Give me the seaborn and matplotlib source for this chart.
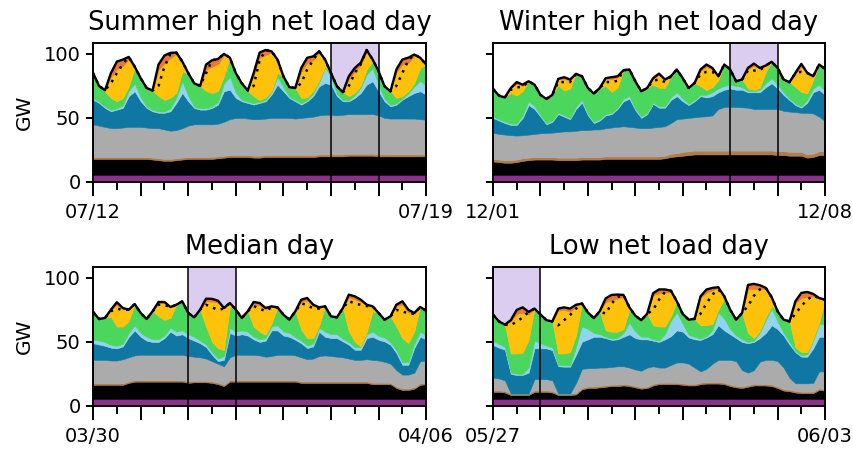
import numpy as np
import matplotlib
matplotlib.use("Agg")
import matplotlib.pyplot as plt
import seaborn as sns

# ---------------- data (GW, 3-hourly over one week) ----------------
HOURS = list(range(0, 169, 3))
TITLES = ["Summer high net load day", "Winter high net load day", "Median day", "Low net load day"]
START_LABELS = ["07/12", "12/01", "03/30", "05/27"]
END_LABELS = ["07/19", "12/08", "04/06", "06/03"]
HIGHLIGHT_DAY = [5, 5, 2, 0]
NUCLEAR_GW = 5.5

# ---- Summer high net load week ----
SUM_TOTAL = [85, 75, 71.6, 85, 94, 95.5, 97.6, 90,
             81, 73.4, 71.4, 91.7, 98.7, 100.8, 101, 94,
             85, 77, 75, 91.7, 95, 96, 100, 97,
             85, 77, 71.4, 85, 101, 103, 102, 95.6,
             82.5, 74, 73.4, 89, 97, 98, 102, 95.6,
             85, 74.7, 70, 82.5, 89, 93, 103, 95.6,
             86.5, 74.7, 70.8, 87.8, 95.6, 97, 99.5, 97,
             91.7]
SUM_DEMAND = [85, 75, 71.6, 77, 85, 92, 97.6, 90,
              81, 73.4, 71.4, 75, 90, 100, 101, 94,
              85, 77, 75, 85, 95, 96, 100, 97,
              85, 77, 71.4, 75, 95, 103, 102, 95.6,
              82.5, 74, 73.4, 77, 88, 95, 102, 95.6,
              85, 74.7, 70, 75, 85, 92, 103, 95.6,
              86.5, 74.7, 70.8, 75, 85, 95, 99.5, 97,
              91.7]
SUM_COAL_TOP = [18, 18, 18, 18, 18, 18, 18, 18,
                18, 18, 17.5, 17, 16.5, 16.5, 17, 17.5,
                18, 18, 18, 18, 18, 18.5, 19, 19.5,
                19.5, 19.5, 19.5, 19, 19, 19.5, 19.5, 19.5,
                19.5, 19.5, 19.5, 19.5, 19.5, 19.5, 20, 20,
                20, 20, 20, 20.5, 20.5, 20.5, 20.5, 20.5,
                20, 20, 20, 20, 20, 20, 20, 20,
                20]
SUM_OTHER = [1.5, 1.5, 1.5, 1.5, 1.5, 1.5, 1.5, 1.5,
             1.5, 1.5, 1.5, 1.5, 1.5, 1.5, 1.5, 1.5,
             1.5, 1.5, 1.5, 1.5, 1.5, 1.5, 1.5, 1.5,
             1.5, 1.5, 1.5, 1.5, 1.5, 1.5, 1.5, 1.5,
             1.5, 1.5, 1.5, 1.5, 1.5, 1.5, 1.5, 1.5,
             1.5, 1.5, 1.5, 1.5, 1.5, 1.5, 1.5, 1.5,
             1.5, 1.5, 1.5, 1.5, 1.5, 1.5, 1.5, 1.5,
             1.5]
SUM_GAS_TOP = [45, 44, 43, 42, 42, 42.5, 43, 43,
               43, 42.5, 42, 42, 41, 40, 40.5, 42,
               44, 45, 45, 45, 45, 45.5, 47, 49,
               50, 50, 49.5, 49, 49, 49.5, 50, 50,
               50, 50, 49.5, 50, 50.5, 51, 52, 52.5,
               52.5, 52, 52.5, 53, 53, 53, 53, 53,
               52, 50, 49.5, 49.5, 49.5, 49.5, 49.5, 49,
               48.5]
SUM_HYDRO_TOP = [64.3, 61.7, 57.8, 55.2, 56.5, 57.8, 67, 70.8,
                 63, 57.8, 55.2, 54, 54, 55.2, 61.7, 69.5,
                 63, 57.8, 56.5, 56.5, 57.8, 60.4, 70.8, 72,
                 65.6, 63, 61.7, 60.4, 61.7, 63, 68.2, 76,
                 70.8, 65.6, 63, 60.4, 63, 67, 74.7, 77.3,
                 76, 67, 63, 63, 65.6, 69.5, 76, 78.6,
                 70.8, 63, 59, 60.4, 64.3, 67, 69.5, 70.8,
                 68.2]
SUM_IMPORTS = [1, 1, 1, 1, 1, 2, 4, 6,
               3, 1, 1, 1, 1, 2, 4, 9,
               4, 1, 1, 1, 1, 2, 6, 10,
               4, 1, 1, 1, 1, 1, 2, 6,
               3, 1, 1, 1, 1, 2, 3, 12,
               6, 2, 1, 1, 2, 4, 8, 10,
               5, 2, 1, 1, 1, 2, 5, 8,
               7]
SUM_SOLAR = [0, 0, 1, 16.4, 25, 25, 21, 1,
             0, 0, 0, 20.7, 28.7, 31, 30.5, 8,
             0, 0, 0, 16.7, 20.5, 21, 16.5, 0,
             0, 0, 0, 16, 33, 33, 30, 10.6,
             0, 0, 0, 20.4, 27, 24, 22, 5.6,
             0, 0, 0, 13.5, 16.5, 16, 14.2, 1.6,
             0, 0, 0, 20.2, 24.6, 22.2, 21.5, 8,
             0]
SUM_CURTAIL = [0, 0, 0, 3, 6, 5, 2, 0,
               0, 0, 0, 4, 6, 4, 1, 0,
               0, 0, 0, 4, 5, 4, 1, 0,
               0, 0, 0, 2, 4, 4, 1, 0,
               0, 0, 0, 3, 4, 3, 1, 0,
               0, 0, 0, 2, 3, 2, 1, 0,
               0, 0, 0, 2, 4, 4, 1, 0,
               0]

# ---- Winter high net load week ----
WIN_TOTAL = [72.7, 67.4, 66, 73.4, 78, 76, 78.6, 76,
             68, 64.8, 68, 80.5, 81.8, 80, 84.4, 82.5,
             73.4, 69, 73.4, 81, 81.8, 82.5, 87.2, 87.8,
             78.6, 70.8, 73.4, 81, 84.6, 80, 82.5, 87.8,
             81, 73.4, 77.3, 87.8, 91.7, 89, 82.5, 91.7,
             87.8, 78.6, 80, 89, 92.4, 89, 90.9, 93.8,
             89, 80, 77.9, 85.2, 92.2, 85.2, 82.5, 91.7,
             88.3]
WIN_DEMAND = [72.7, 67.4, 66, 72, 74, 74, 78.6, 76,
              68, 64.8, 68, 78, 78, 78, 84.4, 82.5,
              73.4, 69, 73.4, 78, 78, 79, 87.2, 87.8,
              78.6, 70.8, 73.4, 79, 80, 78, 82.5, 87.8,
              81, 73.4, 77.3, 84, 86, 86, 82.5, 91.7,
              87.8, 78.6, 80, 87, 87, 87, 90.9, 93.8,
              89, 80, 77.9, 85, 86, 85, 82.5, 91.7,
              88.3]
WIN_COAL_TOP = [16, 15.5, 15, 15, 15.5, 16.5, 17, 17.5,
                17.5, 17.5, 17.5, 17, 17, 17, 17, 17.5,
                17.5, 17.5, 17.5, 18, 18, 18, 18, 18,
                18, 18, 18, 18, 18, 18.5, 19.5, 20,
                20.5, 21, 21.5, 21.5, 21.5, 21.5, 21.5, 21.5,
                21.5, 21.5, 21.5, 21.5, 21.5, 21.5, 21.5, 21.5,
                21, 21, 20.5, 20.5, 20.5, 19, 19.5, 21,
                21]
WIN_OTHER = [2, 2, 2, 2, 2, 2, 2, 2,
             2, 2, 2, 2, 2, 2, 2, 2,
             2, 2, 2, 2, 2, 2, 2, 2,
             2, 2, 2, 2, 2, 2, 2.5, 2.5,
             3, 3, 3, 3, 3, 3, 3, 3,
             3, 3, 3, 3, 3, 3, 3, 3,
             3, 3, 3, 3, 3, 2.5, 2.5, 3,
             3]
WIN_GAS_TOP = [38.3, 37.5, 37, 36.5, 36.2, 36.5, 37, 37.5,
               38, 38.3, 38.5, 39, 39.5, 39.5, 40, 40.5,
               40.5, 41, 41, 42, 42.5, 43, 43.5, 43,
               42.5, 42, 42, 42.5, 43, 43.5, 46, 49,
               49.5, 50, 50.5, 51, 51.3, 52, 57, 58.6,
               58.6, 58.6, 58.3, 58, 57, 57, 57, 57,
               57, 55.5, 55, 54.5, 54, 54, 53.5, 51,
               47.4]
WIN_HYDRO_TOP = [50, 48, 46, 44.5, 44.5, 50, 60, 57,
                 51, 45, 47, 53, 51, 49, 57, 62,
                 52, 46, 48, 52, 53, 57, 63, 65,
                 56, 50, 53, 61, 58, 58, 64, 67,
                 63, 60, 63, 67, 66, 67, 70, 72,
                 73, 72, 72, 70, 70, 70, 74, 77,
                 73, 68, 64, 60, 58, 62, 70, 72,
                 68]
WIN_IMPORTS = [1, 1, 1, 1, 1, 2, 3, 2,
               1, 1, 1, 1, 1, 1, 2, 2,
               1, 1, 1, 1, 1, 1, 2, 2,
               1, 1, 1, 1, 1, 1, 2, 3,
               2, 1, 1, 1, 2, 3, 3, 3,
               3, 3, 2, 1, 1, 2, 3, 4,
               3, 2, 1, 1, 1, 2, 3, 4,
               3]
WIN_SOLAR = [0, 0, 0, 4, 9, 4, 0, 0,
             0, 0, 0, 5, 9, 6, 0, 0,
             0, 0, 0, 6, 10, 8, 0, 0,
             0, 0, 0, 5, 10, 6, 0, 0,
             0, 0, 0, 12, 18, 14, 3, 0,
             0, 0, 0, 15, 19, 15, 5, 0,
             0, 0, 0, 10, 20, 15, 3, 0,
             0]
WIN_CURTAIL = [0, 0, 0, 0, 1.5, 1, 0, 0,
               0, 0, 0, 0, 1.5, 1, 0, 0,
               0, 0, 0, 0, 1.5, 1, 0, 0,
               0, 0, 0, 0, 1, 0.5, 0, 0,
               0, 0, 0, 1, 2, 1, 0, 0,
               0, 0, 0, 1, 1.5, 0.5, 0, 0,
               0, 0, 0, 1, 2, 1, 0, 0,
               0]

# ---- Median week ----
MED_TOTAL = [73.4, 67.9, 68.7, 75.2, 81, 76.5, 75.2, 79.6,
             72.6, 67.9, 73.9, 81.2, 81.2, 77.3, 79.1, 81.7,
             72.6, 69.2, 75.2, 83.8, 83.6, 82.2, 76.5, 80.4,
             75.2, 68.7, 73.9, 81.2, 80.4, 76.5, 77.8, 77,
             71.3, 67.4, 73.9, 83, 84.3, 79.1, 77, 77.8,
             70, 69.2, 76.5, 86.9, 85.6, 83, 79.1, 77.8,
             72.6, 67.4, 70, 79.1, 81.7, 75.2, 72.6, 77.3,
             74.4]
MED_DEMAND = [73.4, 67.9, 68.7, 74, 76, 75, 75.2, 79.6,
              72.6, 67.9, 73.9, 79, 79, 77, 79.1, 81.7,
              72.6, 69.2, 75.2, 79, 77, 75, 76, 80.4,
              75.2, 68.7, 73.9, 78, 76, 74, 77, 77,
              71.3, 67.4, 73.9, 80, 79, 76, 76, 77.8,
              70, 69.2, 76.5, 82, 80, 79, 78, 77.8,
              72.6, 67.4, 70, 75, 74, 72, 72, 77.3,
              74.4]
MED_COAL_TOP = [16.5, 16.5, 16.5, 16.5, 16.5, 16.5, 18, 19,
                19, 19, 19, 19, 19, 19, 19, 19,
                18, 18.5, 18.5, 18.5, 18, 17, 15.5, 19,
                19, 19, 19, 19, 19, 19, 19, 19,
                19, 19, 19, 18, 18, 18, 18, 18,
                18, 18, 18, 18, 18, 18, 18, 17,
                17, 17, 17, 14, 12.5, 12.5, 13.5, 16.5,
                17]
MED_OTHER = [1.2, 1.2, 1.2, 1.2, 1.2, 1.2, 1.2, 1.2,
             1.2, 1.2, 1.2, 1.2, 1.2, 1.2, 1.2, 1.2,
             1.2, 1.2, 1.2, 1.2, 1.2, 1.2, 1.2, 1.2,
             1.2, 1.2, 1.2, 1.2, 1.2, 1.2, 1.2, 1.2,
             1.2, 1.2, 1.2, 1.2, 1.2, 1.2, 1.2, 1.2,
             1.2, 1.2, 1.2, 1.2, 1.2, 1.2, 1.2, 1.2,
             1.2, 1.2, 1.2, 1.2, 1.2, 1.2, 1.2, 1.2,
             1.2]
MED_GAS_TOP = [36, 36, 36, 35.5, 35.5, 36.5, 38, 39.5,
               40, 40, 40, 40, 40, 40, 40, 40,
               39, 38.5, 38, 37, 35, 33, 31, 38,
               40, 40, 40, 40, 39.5, 38.5, 39, 40,
               40, 40, 39.5, 38, 36.5, 37, 39, 39.5,
               39, 38.5, 38, 37, 36, 36, 36.5, 36,
               35.5, 34.5, 33, 28, 24.5, 24.5, 26, 35,
               35]
MED_HYDRO_TOP = [49, 48, 47, 45.5, 45, 46.5, 54, 59,
                 54, 51, 50, 50, 53, 58, 55, 56,
                 53, 51, 49, 46, 40, 35, 36, 57,
                 55, 56, 55, 52, 50, 51, 59, 59,
                 55, 54, 51.7, 49, 45.2, 46.5, 58, 54,
                 53, 53, 50.4, 47.8, 43.9, 43.9, 53, 54,
                 51.7, 50.4, 47.8, 41.3, 32.1, 32.1, 45.2, 54,
                 52]
MED_IMPORTS = [3, 3, 3, 2, 2, 2, 3, 4,
               3, 3, 2, 2, 2, 3, 3, 3,
               3, 3, 2, 2, 2, 2, 3, 4,
               3, 3, 3, 2, 2, 2, 3, 4,
               3, 3, 2, 2, 2, 2, 3, 4,
               3, 3, 2, 2, 2, 2, 3, 4,
               3, 3, 2, 2, 2, 2, 3, 4,
               3]
MED_SOLAR = [0, 0, 0, 5, 17, 13.5, 9, 0,
             0, 0, 0, 10, 13, 8, 0, 0,
             0, 0, 0, 20, 31.6, 35.7, 32.3, 3,
             0, 0, 0, 17.7, 20.4, 19.9, 13, 0,
             0, 0, 0, 22, 29.3, 25.1, 14, 0,
             0, 0, 0, 26.7, 32.7, 35, 21, 3.9,
             0, 0, 0, 16.1, 26.2, 24.2, 13.9, 0,
             0]
MED_CURTAIL = [0, 0, 0, 0.5, 2, 1, 0, 0,
               0, 0, 0, 1, 1, 0.5, 0, 0,
               0, 0, 0, 2, 2, 1.5, 0.5, 0,
               0, 0, 0, 1.5, 2, 1, 0.5, 0,
               0, 0, 0, 1.5, 2, 1, 0.5, 0,
               0, 0, 0, 2, 2.5, 1.5, 0.5, 0,
               0, 0, 0, 1, 2.5, 2, 0.5, 0,
               0]

# ---- Low net load week ----
LOW_TOTAL = [71.3, 66, 63.5, 67, 75, 77, 73.5, 76,
             71.5, 67, 66, 76, 77, 76, 79, 80,
             73, 68.6, 74, 84, 86.7, 87, 86.7, 77,
             70.5, 67, 72, 88, 91, 91, 90, 81.7,
             71.8, 67.4, 68, 85.6, 90.9, 92.2, 92.7, 85.6,
             75.2, 67.4, 72.6, 94.5, 95.3, 94.3, 92.2, 84.9,
             73.9, 67.4, 66, 81.7, 88.3, 89, 87.5, 84.3,
             83]
LOW_DEMAND = [71.3, 66, 63.5, 63, 66, 69, 73.5, 76,
              71.5, 67, 66, 63, 67, 71, 76, 80,
              73, 68.6, 74, 72, 80, 85, 86.7, 77,
              70.5, 67, 72, 75, 83, 89, 90, 81.7,
              71.8, 67.4, 68, 72, 80, 87, 91, 85.6,
              75.2, 67.4, 72.6, 78, 86, 91, 92.2, 84.9,
              73.9, 67.4, 66, 72, 78, 83, 86, 84.3,
              83]
LOW_COAL_TOP = [11, 11, 10.5, 8.5, 8.5, 8.5, 8.5, 11,
                11, 11, 10.5, 8.5, 8.5, 8.5, 9, 13,
                14, 14, 14.5, 15, 15.5, 15.5, 16, 15.5,
                14.5, 13.5, 14, 16, 17, 17, 17, 17,
                16.5, 16, 16, 17, 17.5, 17.5, 17.5, 17,
                15.5, 14.5, 14, 15, 16, 16, 16, 15.5,
                14, 12, 11.5, 10.5, 10, 10, 10, 12.5,
                12]
LOW_OTHER = [1.2, 1.2, 1.2, 1.2, 1.2, 1.2, 1.2, 1.2,
             1.2, 1.2, 1.2, 1.2, 1.2, 1.2, 1.2, 1.2,
             1.2, 1.2, 1.2, 1.2, 1.2, 1.2, 1.2, 1.2,
             1.2, 1.2, 1.2, 1.2, 1.2, 1.2, 1.2, 1.2,
             1.2, 1.2, 1.2, 1.2, 1.2, 1.2, 1.2, 1.2,
             1.2, 1.2, 1.2, 1.2, 1.2, 1.2, 1.2, 1.2,
             1.2, 1.2, 1.2, 1.2, 1.2, 1.2, 1.2, 1.2,
             1.2]
LOW_GAS_TOP = [22, 21.5, 20, 9.7, 9.7, 9.7, 9.7, 21,
               21, 21, 20, 9.7, 9.7, 9.7, 18, 29,
               29.5, 29.5, 30, 30, 30.5, 31, 31, 30,
               28.5, 27.5, 30, 31, 30, 30, 32, 34,
               34, 33, 30, 27, 29, 33, 36, 36,
               36, 35, 28, 26, 28, 34.6, 36, 36,
               35, 30, 22, 17.7, 17.7, 17.7, 18, 27,
               27]
LOW_HYDRO_TOP = [47.6, 45.5, 44, 25, 24.2, 24.2, 26, 45,
                 45, 45, 43.6, 31, 30.7, 30.7, 40, 50.2,
                 52, 54, 54, 53, 51.6, 52, 54, 56,
                 53, 52, 52, 51, 50, 52, 54.5, 59,
                 58, 53.5, 52, 51.6, 53.5, 56, 63, 59,
                 56, 53, 50, 49, 50, 53, 57, 63,
                 60, 55, 48, 42, 38.5, 38.5, 45, 54,
                 54]
LOW_IMPORTS = [3, 3, 2, 1, 1, 1, 4, 6,
               4, 2, 2, 1, 1, 1, 6, 12,
               8, 3, 2, 1, 1, 1, 3, 9,
               5, 2, 2, 1, 1, 4, 12, 14,
               6, 2, 2, 1, 1, 3, 10, 9,
               4, 2, 2, 1, 1, 4, 10, 13,
               6, 2, 2, 1, 1, 2, 6, 10,
               10]
LOW_SOLAR = [0, 0, 0, 25, 31, 31.5, 20, 0,
             0, 0, 0, 33.5, 34, 31.5, 23, 0,
             0, 0, 0, 22, 24.7, 26, 25.2, 2,
             0, 0, 0, 23.5, 26, 26.5, 19, 0,
             0, 0, 0, 21.6, 25.4, 26.2, 17.2, 2,
             0, 0, 0, 34.5, 38.3, 33, 22, 6.9,
             0, 0, 0, 34.2, 42.3, 43, 33, 18.8,
             0]
LOW_CURTAIL = [0, 0, 0, 1, 3, 4, 2, 0,
               0, 0, 0, 1.5, 2, 2.5, 1, 0,
               0, 0, 0, 3, 4, 3, 1.5, 0,
               0, 0, 0, 1.5, 3, 2.5, 1, 0,
               0, 0, 0, 1, 2.5, 2, 0.5, 0,
               0, 0, 0, 3, 4, 3, 1, 0,
               0, 0, 0, 1.5, 4, 4, 2, 0.5,
               0]

# ---------------- style ----------------
C_NUC = "#8e2f8e"
C_COAL = "#000000"
C_OTHER = "#b07c4a"
C_GAS = "#ababab"
C_HYDRO = "#0f77a2"
C_IMP = "#92d4f0"
C_WIND = "#4bd65e"
C_SOLAR = "#ffc20a"
C_CURT = "#ec7633"
C_HILITE = "#dacdf0"

sns.set_style("ticks")
plt.rcParams["font.family"] = ["DejaVu Sans"]
plt.rcParams["text.color"] = "black"
plt.rcParams["axes.labelcolor"] = "black"
plt.rcParams["xtick.color"] = "black"
plt.rcParams["ytick.color"] = "black"

fig = plt.figure(figsize=(8.54, 4.51), dpi=100)
POS = [[0.109, 0.5965, 0.390, 0.3082],
       [0.5773, 0.5965, 0.3888, 0.3082],
       [0.109, 0.0998, 0.390, 0.3082],
       [0.5773, 0.0998, 0.3888, 0.3082]]

PANELS = [
    (SUM_TOTAL, SUM_DEMAND, SUM_COAL_TOP, SUM_OTHER, SUM_GAS_TOP, SUM_HYDRO_TOP, SUM_IMPORTS, SUM_SOLAR, SUM_CURTAIL),
    (WIN_TOTAL, WIN_DEMAND, WIN_COAL_TOP, WIN_OTHER, WIN_GAS_TOP, WIN_HYDRO_TOP, WIN_IMPORTS, WIN_SOLAR, WIN_CURTAIL),
    (MED_TOTAL, MED_DEMAND, MED_COAL_TOP, MED_OTHER, MED_GAS_TOP, MED_HYDRO_TOP, MED_IMPORTS, MED_SOLAR, MED_CURTAIL),
    (LOW_TOTAL, LOW_DEMAND, LOW_COAL_TOP, LOW_OTHER, LOW_GAS_TOP, LOW_HYDRO_TOP, LOW_IMPORTS, LOW_SOLAR, LOW_CURTAIL),
]

t = np.array(HOURS, dtype=float)
for i, (tot, dem, coal_top, other, gas_top, hyd_top, imp, sol, cur) in enumerate(PANELS):
    ax = fig.add_axes(POS[i])
    tot = np.array(tot, float); dem = np.array(dem, float)
    coal_top = np.array(coal_top, float); other = np.array(other, float)
    gas_top = np.array(gas_top, float); hyd_top = np.array(hyd_top, float)
    imp = np.array(imp, float); sol = np.array(sol, float); cur = np.array(cur, float)

    nuc = np.full_like(t, NUCLEAR_GW)
    coal = coal_top - NUCLEAR_GW
    gas = np.maximum(gas_top - coal_top - other, 0)
    hydro = np.maximum(hyd_top - gas_top, 0)
    wind = tot - cur - sol - imp - hyd_top
    if wind.min() < 0:
        print("negative wind in panel", i, wind.min())
    wind = np.maximum(wind, 0)

    d = HIGHLIGHT_DAY[i]
    ax.axvspan(d * 24, d * 24 + 24, color=C_HILITE, zorder=0, lw=0)

    ax.stackplot(t, [nuc, coal, other, gas, hydro, imp, wind, sol, cur],
                 colors=[C_NUC, C_COAL, C_OTHER, C_GAS, C_HYDRO, C_IMP, C_WIND, C_SOLAR, C_CURT],
                 linewidth=0.4, edgecolor="face", zorder=1)

    ax.plot(t, dem, color="black", linestyle=(0, (1, 2.2)), lw=1.8, zorder=3)
    sns.lineplot(x=t, y=tot, ax=ax, color="black", lw=1.7, zorder=4)

    ax.axvline(d * 24, color="black", lw=1.1, zorder=5)
    ax.axvline(d * 24 + 24, color="black", lw=1.1, zorder=5)

    ax.set_xlim(0, 168)
    ax.set_ylim(0, 108.5)
    ax.set_xticks(list(range(0, 169, 24)))
    ax.set_xticks(list(range(12, 168, 24)), minor=True)
    ax.set_xticklabels([START_LABELS[i], "", "", "", "", "", "", END_LABELS[i]])
    ax.set_yticks([0, 50, 100])
    if i % 2 == 0:
        ax.set_yticklabels(["0", "50", "100"])
        ax.set_ylabel("GW", fontsize=14.5, labelpad=7)
    else:
        ax.set_yticklabels([])
        ax.set_ylabel("")
    ax.set_xlabel("")
    ax.tick_params(axis="x", which="major", length=10, width=1.4, labelsize=14, pad=5)
    ax.tick_params(axis="x", which="minor", length=5.5, width=1.4)
    ax.tick_params(axis="y", which="major", length=5, width=1.4, labelsize=14, pad=4)
    for s in ax.spines.values():
        s.set_linewidth(1.4)
        s.set_color("black")
        s.set_zorder(6)
    ax.set_title(TITLES[i], fontsize=18.5, pad=9)

fig.savefig("out.png", dpi=100)
